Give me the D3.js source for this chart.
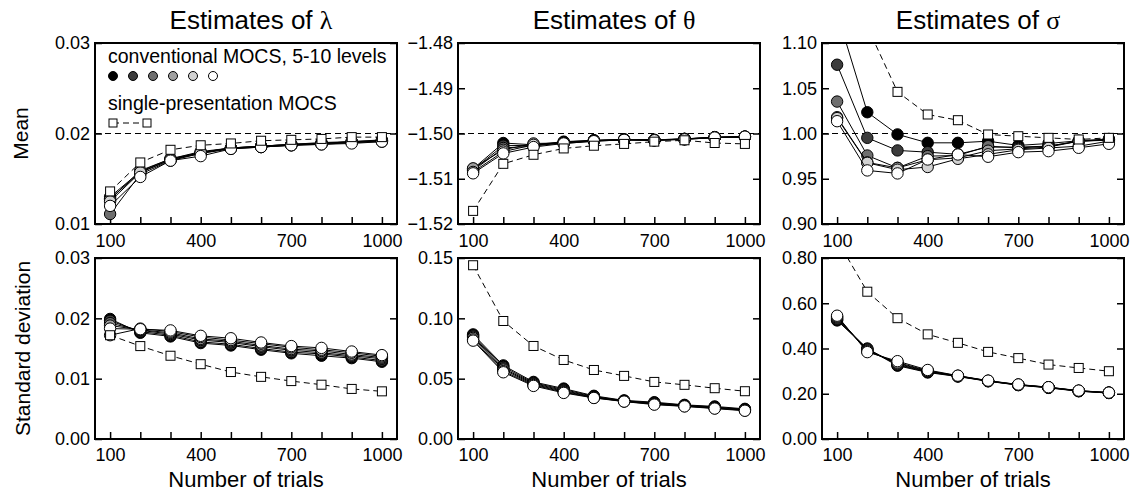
<!DOCTYPE html>
<html>
<head>
<meta charset="utf-8">
<script src="https://cdn.jsdelivr.net/npm/d3@7"></script>
<style>
body { margin: 0; background: #fff; }
text { font-family: "Liberation Sans", Arial, sans-serif; fill: #000; }
</style>
</head>
<body>
<svg id="chart" width="1133" height="494"></svg>
<script>
var trials = [100, 200, 300, 400, 500, 600, 700, 800, 900, 1000];
var xTickLabels = [100, 400, 700, 1000];
var levelFills = ['#000000', '#3c3c3c', '#6e6e6e', '#a0a0a0', '#d2d2d2', '#ffffff'];

// conventional MOCS, one row per level count (5..10), then single-presentation
var lambdaMean = [
  [0.0128, 0.0157, 0.0171, 0.0178, 0.0184, 0.0185, 0.0187, 0.0188, 0.0190, 0.0191],
  [0.0130, 0.0158, 0.0172, 0.0179, 0.0184, 0.0186, 0.0188, 0.0189, 0.0190, 0.0192],
  [0.0111, 0.0155, 0.0170, 0.0178, 0.0183, 0.0185, 0.0187, 0.0189, 0.0191, 0.0192],
  [0.0127, 0.0159, 0.0172, 0.0180, 0.0184, 0.0186, 0.0188, 0.0190, 0.0191, 0.0193],
  [0.0125, 0.0157, 0.0171, 0.0179, 0.0184, 0.0186, 0.0188, 0.0189, 0.0191, 0.0192],
  [0.0120, 0.0152, 0.0170, 0.0175, 0.0183, 0.0185, 0.0187, 0.0188, 0.0189, 0.0191]
];
var lambdaMeanSingle = [0.0136, 0.0168, 0.0182, 0.0187, 0.0189, 0.0192, 0.0193, 0.0194, 0.0196, 0.0196];

var thetaMean = [
  [-1.5078, -1.5021, -1.5025, -1.5018, -1.5015, -1.5013, -1.5014, -1.5012, -1.5008, -1.5007],
  [-1.5080, -1.5027, -1.5026, -1.5019, -1.5015, -1.5013, -1.5014, -1.5012, -1.5008, -1.5007],
  [-1.5082, -1.5032, -1.5028, -1.5020, -1.5016, -1.5014, -1.5015, -1.5012, -1.5009, -1.5007],
  [-1.5077, -1.5036, -1.5022, -1.5021, -1.5016, -1.5014, -1.5015, -1.5013, -1.5009, -1.5008],
  [-1.5085, -1.5040, -1.5025, -1.5022, -1.5017, -1.5014, -1.5015, -1.5012, -1.5009, -1.5008],
  [-1.5088, -1.5044, -1.5030, -1.5022, -1.5017, -1.5014, -1.5015, -1.5013, -1.5009, -1.5007]
];
var thetaMeanSingle = [-1.5171, -1.5067, -1.5047, -1.5033, -1.5027, -1.5023, -1.5018, -1.5015, -1.5021, -1.5023];

var sigmaMean = [
  [1.133, 1.0235, 0.999, 0.9897, 0.9897, 0.9915, 0.9868, 0.989, 0.992, 0.994],
  [1.076, 0.9952, 0.9813, 0.9794, 0.977, 0.985, 0.985, 0.986, 0.9915, 0.9934],
  [1.0353, 0.9757, 0.962, 0.975, 0.9757, 0.986, 0.984, 0.986, 0.9915, 0.9926],
  [1.018, 0.968, 0.962, 0.971, 0.973, 0.981, 0.983, 0.985, 0.9915, 0.993],
  [1.017, 0.9676, 0.960, 0.963, 0.972, 0.977, 0.982, 0.984, 0.986, 0.9915],
  [1.0136, 0.9592, 0.9559, 0.9713, 0.9768, 0.9743, 0.9794, 0.9805, 0.9842, 0.9886]
];
var sigmaMeanSingle = [1.28, 1.118, 1.046, 1.021, 1.0147, 0.9989, 0.997, 0.9952, 0.9934, 0.9952];

var lambdaSd = [
  [0.0199, 0.0176, 0.0170, 0.0159, 0.0155, 0.0148, 0.0142, 0.0138, 0.0134, 0.0128],
  [0.0196, 0.0178, 0.0172, 0.0161, 0.0157, 0.0150, 0.0144, 0.0141, 0.0136, 0.0130],
  [0.0192, 0.0180, 0.0174, 0.0164, 0.0160, 0.0153, 0.0147, 0.0143, 0.0138, 0.0133],
  [0.0188, 0.0181, 0.0176, 0.0166, 0.0162, 0.0155, 0.0149, 0.0146, 0.0140, 0.0135],
  [0.0172, 0.0183, 0.0178, 0.0169, 0.0164, 0.0158, 0.0152, 0.0148, 0.0143, 0.0137],
  [0.0183, 0.0182, 0.0180, 0.0171, 0.0167, 0.0160, 0.0154, 0.0151, 0.0145, 0.0139]
];
var lambdaSdSingle = [0.0172, 0.0154, 0.0138, 0.0124, 0.0111, 0.0103, 0.0096, 0.0090, 0.0083, 0.0079];

var thetaSd = [
  [0.0867, 0.0610, 0.0473, 0.0418, 0.0358, 0.0320, 0.0305, 0.0283, 0.0270, 0.0250],
  [0.0858, 0.0598, 0.0466, 0.0410, 0.0353, 0.0317, 0.0300, 0.0280, 0.0265, 0.0246],
  [0.0848, 0.0585, 0.0460, 0.0402, 0.0348, 0.0315, 0.0296, 0.0277, 0.0262, 0.0243],
  [0.0838, 0.0575, 0.0453, 0.0395, 0.0345, 0.0313, 0.0292, 0.0275, 0.0258, 0.0240],
  [0.0825, 0.0562, 0.0447, 0.0388, 0.0342, 0.0312, 0.0288, 0.0272, 0.0255, 0.0237],
  [0.0815, 0.0553, 0.0440, 0.0382, 0.0340, 0.0310, 0.0285, 0.0270, 0.0252, 0.0234]
];
var thetaSdSingle = [0.1440, 0.0978, 0.0771, 0.0655, 0.0572, 0.0523, 0.0473, 0.0449, 0.0421, 0.0396];

var sigmaSd = [
  [0.524, 0.398, 0.324, 0.294, 0.276, 0.255, 0.238, 0.226, 0.211, 0.203],
  [0.528, 0.400, 0.327, 0.296, 0.277, 0.256, 0.239, 0.227, 0.212, 0.204],
  [0.532, 0.396, 0.330, 0.298, 0.278, 0.256, 0.239, 0.228, 0.212, 0.204],
  [0.537, 0.392, 0.334, 0.300, 0.279, 0.257, 0.240, 0.228, 0.213, 0.205],
  [0.541, 0.388, 0.338, 0.302, 0.279, 0.257, 0.240, 0.229, 0.213, 0.205],
  [0.545, 0.384, 0.344, 0.305, 0.280, 0.258, 0.241, 0.229, 0.214, 0.205]
];
var sigmaSdSingle = [0.880, 0.651, 0.534, 0.4625, 0.425, 0.385, 0.3575, 0.329, 0.314, 0.2996];

var lambdaMeanTicks = [0.01, 0.02, 0.03];
var thetaMeanTicks = [-1.52, -1.51, -1.50, -1.49, -1.48];
var sigmaMeanTicks = [0.90, 0.95, 1.00, 1.05, 1.10];
var lambdaSdTicks = [0.00, 0.01, 0.02, 0.03];
var thetaSdTicks = [0.00, 0.05, 0.10, 0.15];
var sigmaSdTicks = [0.00, 0.20, 0.40, 0.60, 0.80];

var titles = ['\u03bb', '\u03b8', '\u03c3'];
var trueValues = [0.02, -1.50, 1.00];

var panels = [
  {col: 0, row: 0, ticks: lambdaMeanTicks, levels: lambdaMean, single: lambdaMeanSingle, truth: trueValues[0]},
  {col: 1, row: 0, ticks: thetaMeanTicks, levels: thetaMean, single: thetaMeanSingle, truth: trueValues[1]},
  {col: 2, row: 0, ticks: sigmaMeanTicks, levels: sigmaMean, single: sigmaMeanSingle, truth: trueValues[2]},
  {col: 0, row: 1, ticks: lambdaSdTicks, levels: lambdaSd, single: lambdaSdSingle},
  {col: 1, row: 1, ticks: thetaSdTicks, levels: thetaSd, single: thetaSdSingle},
  {col: 2, row: 1, ticks: sigmaSdTicks, levels: sigmaSd, single: sigmaSdSingle}
];

var colLeft = [95, 458, 822];
var rowTop = [43, 258];
var panelW = 302, panelH = 181;

var svg = d3.select('#chart');

var x = d3.scaleLinear().domain([50, 1050]).range([0, panelW]);

var line = function (y) {
  return d3.line()
    .x(function (d, i) { return x(trials[i]); })
    .y(function (d) { return y(d); });
};

panels.forEach(function (p, k) {
  var g = svg.append('g')
    .attr('transform', 'translate(' + colLeft[p.col] + ',' + rowTop[p.row] + ')');

  var y = d3.scaleLinear()
    .domain([p.ticks[0], p.ticks[p.ticks.length - 1]])
    .range([panelH, 0]);

  g.append('clipPath').attr('id', 'clip' + k)
    .append('rect').attr('width', panelW).attr('height', panelH);

  // axes, ticks point inward
  var xAxis = d3.axisBottom(x).tickValues(trials).tickSize(-7).tickPadding(p.row === 0 ? 10 : 9)
    .tickFormat(function (d) { return xTickLabels.indexOf(d) >= 0 ? d : ''; });
  var gx = g.append('g').attr('transform', 'translate(0,' + panelH + ')').call(xAxis);

  var yAxis = d3.axisLeft(y).tickValues(p.ticks).tickSize(-7).tickPadding(5)
    .tickFormat(d3.format('.2f'));
  var gy = g.append('g').call(yAxis);

  var gr = g.append('g').attr('transform', 'translate(' + panelW + ',0)')
    .call(d3.axisRight(y).tickValues(p.ticks).tickSize(-7).tickFormat(''));

  [gx, gy, gr].forEach(function (a) {
    a.select('.domain').remove();
    a.selectAll('line').attr('stroke', '#000').attr('stroke-width', 1.5);
    a.selectAll('text').attr('font-size', 18).attr('font-family', '"Liberation Sans", Arial, sans-serif');
  });

  if (p.truth !== undefined) {
    g.append('line')
      .attr('x1', 0).attr('x2', panelW)
      .attr('y1', y(p.truth)).attr('y2', y(p.truth))
      .attr('stroke', '#000').attr('stroke-width', 1)
      .attr('stroke-dasharray', '6,4');
  }

  var plot = g.append('g').attr('clip-path', 'url(#clip' + k + ')');

  p.levels.forEach(function (vals, j) {
    plot.append('path').datum(vals)
      .attr('d', line(y))
      .attr('fill', 'none').attr('stroke', '#000').attr('stroke-width', 1);
    plot.selectAll('.c' + j).data(vals).enter().append('circle')
      .attr('cx', function (d, i) { return x(trials[i]); })
      .attr('cy', function (d) { return y(d); })
      .attr('r', 5.7)
      .attr('fill', levelFills[j])
      .attr('stroke', '#000').attr('stroke-width', 1);
  });

  plot.append('path').datum(p.single)
    .attr('d', line(y))
    .attr('fill', 'none').attr('stroke', '#000').attr('stroke-width', 1)
    .attr('stroke-dasharray', '6,4');
  plot.selectAll('.sq').data(p.single).enter().append('rect')
    .attr('x', function (d, i) { return x(trials[i]) - 4.5; })
    .attr('y', function (d) { return y(d) - 4.5; })
    .attr('width', 9).attr('height', 9)
    .attr('fill', '#fff').attr('stroke', '#000').attr('stroke-width', 1);

  g.append('rect')
    .attr('width', panelW).attr('height', panelH)
    .attr('fill', 'none').attr('stroke', '#000').attr('stroke-width', 2);

  if (p.row === 0) {
    var t = g.append('text')
      .attr('x', panelW / 2 + 5).attr('y', -14)
      .attr('text-anchor', 'middle').attr('font-size', 26);
    t.append('tspan').text('Estimates of ');
    t.append('tspan').attr('font-family', '"Liberation Serif", serif').text(titles[p.col]);
  } else {
    g.append('text')
      .attr('x', panelW / 2).attr('y', panelH + 48)
      .attr('text-anchor', 'middle').attr('font-size', 22)
      .text('Number of trials');
  }
});

// row labels
svg.append('text')
  .attr('transform', 'translate(28,' + (rowTop[0] + panelH / 2) + ') rotate(-90)')
  .attr('text-anchor', 'middle').attr('font-size', 21).text('Mean');
svg.append('text')
  .attr('transform', 'translate(30,' + (rowTop[1] + panelH / 2) + ') rotate(-90)')
  .attr('text-anchor', 'middle').attr('font-size', 21).text('Standard deviation');

// legend inside the first panel
var leg = svg.append('g').attr('transform', 'translate(' + colLeft[0] + ',' + rowTop[0] + ')');
leg.append('text').attr('x', 13).attr('y', 20).attr('font-size', 19.5)
  .text('conventional MOCS, 5-10 levels');
leg.selectAll('.lc').data(levelFills).enter().append('circle')
  .attr('cx', function (d, i) { return 18 + i * 20; })
  .attr('cy', 33)
  .attr('r', 4.5)
  .attr('fill', function (d) { return d; })
  .attr('stroke', '#000').attr('stroke-width', 1);
leg.append('text').attr('x', 13).attr('y', 67).attr('font-size', 19.5)
  .text('single-presentation MOCS');
leg.append('line').attr('x1', 18).attr('x2', 52).attr('y1', 80).attr('y2', 80)
  .attr('stroke', '#000').attr('stroke-width', 1).attr('stroke-dasharray', '6,4');
leg.selectAll('.ls').data([18, 52]).enter().append('rect')
  .attr('x', function (d) { return d - 4; }).attr('y', 76)
  .attr('width', 8).attr('height', 8)
  .attr('fill', '#fff').attr('stroke', '#000').attr('stroke-width', 1);
</script>
</body>
</html>
